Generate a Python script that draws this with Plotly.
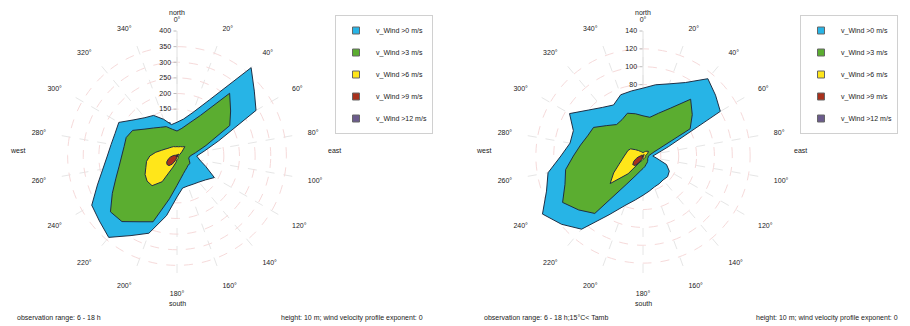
import plotly.graph_objects as go

# ---------------- data ----------------
directions = [0, 10, 20, 30, 40, 50, 60, 70, 80, 90, 100, 110, 120, 130, 140, 150, 160, 170,
              180, 190, 200, 210, 220, 230, 240, 250, 260, 270, 280, 290, 300, 310, 320, 330, 340, 350]

series_names = ["v_Wind >0 m/s", "v_Wind >3 m/s", "v_Wind >6 m/s", "v_Wind >9 m/s", "v_Wind >12 m/s"]

# left chart: observation range 6 - 18 h
left_gt0 = [108, 120, 148, 207, 369, 323, 292, 142, 88, 63, 74, 98, 138, 119, 109, 104, 102, 104,
            131, 194, 263, 294, 340, 324, 315, 271, 241, 223, 214, 211, 215, 180, 160, 150, 125, 102]
left_gt3 = [80, 90, 111, 150, 262, 224, 195, 99, 60, 42, 38, 42, 48, 46, 49, 53, 60, 72,
            94, 139, 224, 243, 274, 278, 239, 208, 188, 177, 172, 173, 164, 134, 117, 106, 100, 87]
left_gt6 = [30, 30, 32, 34, 39, 20, 10, 7, 6, 5, 5, 5, 5, 6, 7, 8, 9, 10,
            12, 22, 38, 95, 124, 125, 118, 106, 99, 87, 69, 53, 44, 38, 35, 33, 32, 30]
left_gt9 = [4, 4, 5, 6, 8, 5, 3, 3, 3, 3, 3, 3, 3, 3, 3, 3, 3, 3,
            4, 6, 15, 30, 40, 42, 38, 30, 22, 15, 10, 7, 5, 4, 4, 4, 4, 4]
left_gt12 = [1, 1, 1, 1, 1, 1, 1, 1, 1, 1, 1, 1, 1, 1, 1, 1, 1, 1,
             1, 1, 2, 3, 4, 4, 3, 2, 1, 1, 1, 1, 1, 1, 1, 1, 1, 1]

# right chart: observation range 6 - 18 h; 15°C < Tamb
right_gt0 = [76, 81, 86, 95, 113, 106, 100, 30, 16, 11, 16, 28, 34, 36, 35, 36, 37, 40,
             44, 50, 59, 76, 107, 119, 130, 115, 108, 92, 83, 83, 95, 80, 71, 66, 73, 74]
right_gt3 = [45, 44, 51, 62, 83, 72, 61, 13, 8, 6, 6, 6, 6, 7, 8, 9, 10, 12,
             14, 17, 23, 36, 84, 94, 104, 93, 88, 78, 71, 66, 64, 53, 46, 47, 51, 48]
right_gt6 = [4, 4, 5, 6, 7, 8, 6, 4, 3, 3, 3, 3, 3, 3, 3, 3, 3, 3,
             4, 5, 6, 9, 26, 48, 38, 29, 24, 21, 19, 18, 16, 11, 8, 6, 5, 4]
right_gt9 = [1, 1, 1, 2, 2, 2, 1, 1, 1, 1, 1, 1, 1, 1, 1, 1, 1, 1,
             2, 2, 4, 8, 14, 15, 12, 8, 5, 3, 2, 2, 2, 1, 1, 1, 1, 1]
right_gt12 = [0, 0, 0, 0, 0, 0, 0, 0, 0, 0, 0, 0, 0, 0, 0, 0, 0, 0,
              0, 0, 1, 1, 2, 2, 1, 1, 0, 0, 0, 0, 0, 0, 0, 0, 0, 0]

angle_ticks = [0, 20, 40, 60, 80, 100, 120, 140, 160, 180, 200, 220, 240, 260, 280, 300, 320, 340]
angle_ticktext = ["0°", "20°", "40°", "60°", "80°", "100°", "120°", "140°", "160°", "180°",
                  "200°", "220°", "240°", "260°", "280°", "300°", "320°", "340°"]
left_rticks = [50, 100, 150, 200, 250, 300, 350, 400]
right_rticks = [20, 40, 60, 80, 100, 120, 140]

left_notes = ["observation range: 6 - 18 h", "height: 10 m; wind velocity profile exponent: 0"]
right_notes = ["observation range: 6 - 18 h;15°C< Tamb", "height: 10 m; wind velocity profile exponent: 0"]

colors = ["#27B4E6", "#5BAD30", "#FFE61A", "#A8301C", "#6B5B8C"]
FONT = "Liberation Sans, Arial, sans-serif"
TXT = "#1A1A1A"
W, H = 910, 326

fig = go.Figure()

def add_rose(values_list, polar, legend):
    for name, vals, col in zip(series_names, values_list, colors):
        r = list(vals) + [vals[0]]
        th = list(directions) + [directions[0]]
        fig.add_trace(go.Scatterpolar(
            r=r, theta=th, mode="lines", fill="toself", fillcolor=col,
            line=dict(color="#1F2F45", width=1), name=name, subplot=polar,
            showlegend=False, hoverinfo="skip"))
    for name, col in zip(series_names, colors):
        fig.add_trace(go.Scatterpolar(
            r=[None], theta=[None], mode="markers", name=name, subplot=polar,
            marker=dict(symbol="square", size=7, color=col, line=dict(color="#666", width=1)),
            legend=legend, legendgroup=polar + name, showlegend=True, hoverinfo="skip"))

add_rose([left_gt0, left_gt3, left_gt6, left_gt9, left_gt12], "polar", "legend")
add_rose([right_gt0, right_gt3, right_gt6, right_gt9, right_gt12], "polar2", "legend2")

def px_x(x):
    return x / W

def px_y(y):
    return 1 - y / H

def polar_layout(cx, cy, R, rmax, rticks):
    return dict(
        domain=dict(x=[px_x(cx - R), px_x(cx + R)], y=[px_y(cy + R), px_y(cy - R)]),
        bgcolor="white",
        angularaxis=dict(rotation=90, direction="clockwise", tickmode="array",
                         tickvals=angle_ticks, ticktext=angle_ticktext,
                         tickfont=dict(size=7, color=TXT, family=FONT),
                         showline=False, gridcolor="#E6E6E6", griddash="dash",
                         ticks="outside", ticklen=6, tickcolor="rgba(0,0,0,0)",
                         layer="below traces"),
        radialaxis=dict(range=[0, rmax], tickmode="array", tickvals=rticks, angle=90,
                        tickangle=90, side="counterclockwise",
                        tickfont=dict(size=7, color=TXT, family=FONT),
                        showline=True, linecolor="#E0E0E0", ticks="outside", ticklen=3,
                        tickcolor="#BBBBBB", gridcolor="#F6DADA", griddash="dash",
                        layer="below traces"),
    )

legend_style = dict(yanchor="top", xanchor="left", y=px_y(15),
                    bgcolor="white", bordercolor="#D0D0D0", borderwidth=1,
                    font=dict(size=7, family=FONT, color=TXT), tracegroupgap=3,
                    itemwidth=30)

fig.update_layout(
    width=W, height=H, margin=dict(l=0, r=0, t=0, b=0),
    paper_bgcolor="white", plot_bgcolor="white",
    font=dict(family=FONT, size=7, color=TXT),
    polar=polar_layout(177, 156, 125, 400, left_rticks),
    polar2=polar_layout(643, 156, 125, 140, right_rticks),
    legend=dict(x=px_x(335), **legend_style),
    legend2=dict(x=px_x(800), **legend_style),
    showlegend=True,
)

annos = []
for cx in [177, 643]:
    for txt, x, y in [("north", cx, 12), ("south", cx, 303), ("west", cx - 160, 150), ("east", cx + 157, 150)]:
        annos.append(dict(text=txt, x=px_x(x), y=px_y(y), xref="paper", yref="paper",
                          showarrow=False, font=dict(size=7, color=TXT, family=FONT),
                          xanchor="center", yanchor="middle"))

for (t1, t2), x1, x2 in [(left_notes, 15, 425), (right_notes, 482, 900)]:
    annos.append(dict(text=t1, x=px_x(x1), y=px_y(318), xref="paper", yref="paper", showarrow=False,
                      xanchor="left", yanchor="middle", font=dict(size=7, color=TXT, family=FONT)))
    annos.append(dict(text=t2, x=px_x(x2), y=px_y(318), xref="paper", yref="paper", showarrow=False,
                      xanchor="right", yanchor="middle", font=dict(size=7, color=TXT, family=FONT)))

fig.update_layout(annotations=annos)
fig.write_html("out.html", config={"displayModeBar": False},
               post_script="document.body.style.margin='0px';document.body.style.overflow='hidden';")
